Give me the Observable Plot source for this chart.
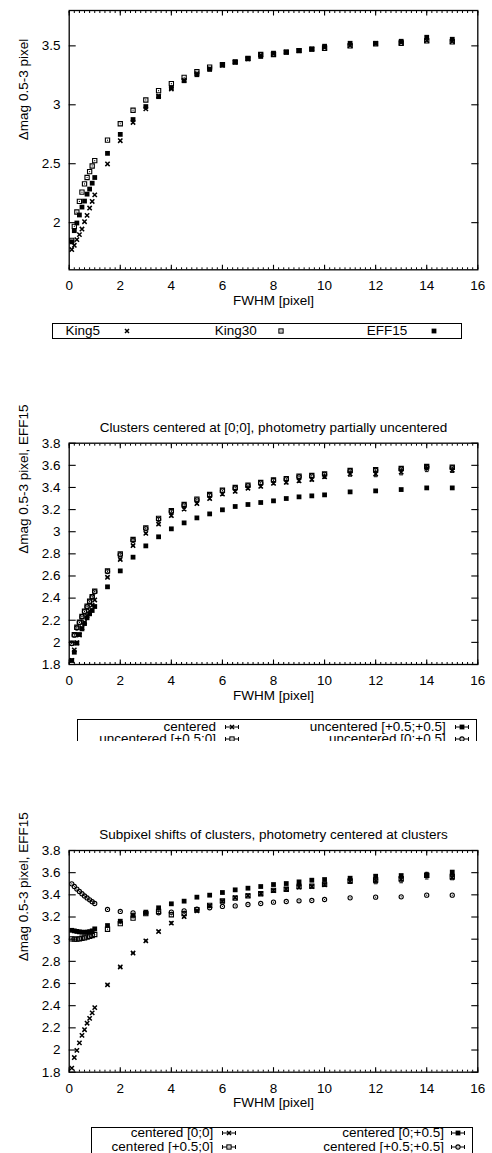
<!DOCTYPE html>
<html><head><meta charset="utf-8">
<script src="https://cdn.jsdelivr.net/npm/d3@7"></script>
<script src="https://cdn.jsdelivr.net/npm/@observablehq/plot@0.6"></script>
<style>
html,body{margin:0;padding:0;background:#fff;}
#root{position:relative;width:492px;height:1153px;overflow:hidden;font-family:"Liberation Sans",Arial,sans-serif;font-size:13.5px;color:#000;}
.lt{position:absolute;white-space:nowrap;line-height:12px;height:12px;}
</style></head><body><div id="root"></div>
<script>
// ---------- data ----------
const fwhm = [0.1,0.2,0.3,0.4,0.5,0.6,0.7,0.8,0.9,1.0,1.5,2,2.5,3,3.5,4,4.5,5,5.5,6,6.5,7,7.5,8,8.5,9,9.5,10,11,12,13,14,15];

// panel 1
const king5  = [1.772,1.808,1.856,1.898,1.946,2.008,2.062,2.124,2.18,2.236,2.498,2.695,2.85,2.965,3.075,3.134,3.207,3.264,3.306,3.334,3.362,3.39,3.424,3.432,3.447,3.46,3.472,3.486,3.503,3.52,3.528,3.545,3.537];
const king30 = [1.85,1.969,2.09,2.18,2.259,2.329,2.383,2.433,2.481,2.526,2.70,2.839,2.954,3.041,3.12,3.179,3.233,3.28,3.32,3.34,3.362,3.393,3.427,3.427,3.447,3.46,3.472,3.48,3.5,3.517,3.522,3.542,3.534];
const eff15  = [1.837,1.932,1.997,2.065,2.132,2.183,2.242,2.285,2.335,2.383,2.588,2.749,2.875,2.985,3.069,3.145,3.204,3.255,3.30,3.34,3.365,3.393,3.41,3.438,3.447,3.46,3.472,3.497,3.522,3.522,3.539,3.573,3.556];

// panel 2
const p2Centered = [1.837,1.932,1.997,2.065,2.132,2.183,2.242,2.285,2.335,2.383,2.588,2.749,2.875,2.985,3.069,3.145,3.204,3.255,3.30,3.34,3.365,3.393,3.41,3.438,3.447,3.46,3.472,3.497,3.522,3.522,3.539,3.573,3.556];
const p2Err      = [0,0,0,0,0,0,0,0,0,0,0.005,0.005,0.006,0.008,0.008,0.01,0.01,0.01,0.01,0.012,0.012,0.012,0.012,0.012,0.014,0.014,0.014,0.015,0.02,0.025,0.025,0.03,0.02];
const p2U50 = [1.993,2.07,2.137,2.183,2.234,2.282,2.327,2.372,2.414,2.463,2.646,2.8,2.93,3.035,3.12,3.19,3.246,3.294,3.336,3.375,3.4,3.42,3.445,3.469,3.48,3.502,3.508,3.523,3.553,3.56,3.571,3.589,3.583];
const p2U55 = [1.836,1.911,1.993,2.071,2.122,2.17,2.222,2.258,2.288,2.324,2.502,2.646,2.77,2.872,2.954,3.026,3.08,3.125,3.161,3.198,3.228,3.246,3.264,3.279,3.30,3.315,3.324,3.333,3.36,3.369,3.381,3.396,3.396];
const p2U05 = [1.99,2.065,2.13,2.18,2.23,2.278,2.322,2.366,2.41,2.458,2.64,2.792,2.922,3.028,3.112,3.183,3.24,3.288,3.33,3.37,3.395,3.415,3.44,3.463,3.475,3.497,3.503,3.518,3.548,3.556,3.566,3.585,3.578];

// panel 3
const p3C00 = [1.837,1.932,1.997,2.065,2.132,2.183,2.242,2.285,2.335,2.383,2.588,2.749,2.875,2.985,3.069,3.145,3.204,3.255,3.30,3.342,3.375,3.393,3.41,3.438,3.451,3.47,3.475,3.49,3.522,3.525,3.539,3.573,3.556];
const p3Err = [0,0,0,0,0,0,0,0,0,0,0.005,0.005,0.006,0.008,0.008,0.01,0.01,0.01,0.01,0.012,0.012,0.012,0.012,0.012,0.014,0.014,0.014,0.015,0.02,0.025,0.03,0.03,0.02];
const p3C05 = [3.08,3.075,3.07,3.066,3.063,3.062,3.064,3.068,3.075,3.093,3.123,3.162,3.214,3.244,3.283,3.319,3.343,3.379,3.397,3.421,3.445,3.46,3.475,3.493,3.502,3.517,3.532,3.538,3.55,3.568,3.574,3.58,3.605];
const p3C50 = [3.003,3.0,3.0,3.003,3.008,3.012,3.018,3.025,3.033,3.042,3.09,3.14,3.19,3.23,3.25,3.22,3.23,3.265,3.305,3.345,3.37,3.39,3.41,3.44,3.45,3.475,3.478,3.495,3.525,3.535,3.545,3.575,3.565];
const p3C55 = [3.499,3.475,3.452,3.43,3.41,3.39,3.372,3.355,3.338,3.322,3.268,3.25,3.238,3.238,3.238,3.244,3.256,3.271,3.283,3.295,3.30,3.313,3.322,3.334,3.34,3.346,3.349,3.358,3.373,3.379,3.382,3.397,3.397];

// ticks & labels
const xTicks = [0,2,4,6,8,10,12,14,16];
const yTicks1 = [2,2.5,3,3.5];
const yTicks23 = [1.8,2,2.2,2.4,2.6,2.8,3,3.2,3.4,3.6,3.8];
const xLabel = "FWHM [pixel]";
const yLabel1 = "Δmag 0.5-3 pixel";
const yLabel23 = "Δmag 0.5-3 pixel, EFF15";
const title2 = "Clusters centered at [0;0], photometry partially uncentered";
const title3 = "Subpixel shifts of clusters, photometry centered at clusters";
const legend1 = ["King5","King30","EFF15"];
const legend2 = ["centered","uncentered [+0.5;+0.5]","uncentered [+0.5;0]","uncentered [0;+0.5]"];
const legend3 = ["centered [0;0]","centered [0;+0.5]","centered [+0.5;0]","centered [+0.5;+0.5]"];

// ---------- drawing ----------
const FONT = '"Liberation Sans", Arial, sans-serif';
const FS = 13.5;
const ML = 68.7, MR = 14.7;
const root = document.getElementById("root");
const xMinor = d3.range(0, 16.001, 0.2);

const capSymbol = {draw(ctx){ctx.moveTo(-1.8,0); ctx.lineTo(1.8,0);}};

function seriesMarks(values, kind, err) {
  const rows = fwhm.map((x, i) => ({x, y: values[i], e: err ? err[i] : 0}));
  const m = [];
  if (err) {
    const re = rows.filter(d => d.e > 0);
    m.push(Plot.ruleX(re, {x: "x", y1: d => d.y - d.e, y2: d => d.y + d.e, stroke: "black", strokeWidth: 1}));
    m.push(Plot.dot(re, {x: "x", y: d => d.y - d.e, symbol: capSymbol, stroke: "black", strokeWidth: 1}));
    m.push(Plot.dot(re, {x: "x", y: d => d.y + d.e, symbol: capSymbol, stroke: "black", strokeWidth: 1}));
  }
  if (kind === "times") m.push(Plot.dot(rows, {x: "x", y: "y", symbol: "times", r: 2.1, stroke: "black", strokeWidth: 1.5}));
  if (kind === "open") {
    m.push(Plot.dot(rows, {x: "x", y: "y", symbol: "square", r: 2.4, stroke: "black", strokeWidth: 1.1, fill: "none"}));
    m.push(Plot.dot(rows, {x: "x", y: "y", r: 0.6, fill: "black"}));
  }
  if (kind === "filled") m.push(Plot.dot(rows, {x: "x", y: "y", symbol: "square", r: 2.7, fill: "black"}));
  if (kind === "circle") {
    m.push(Plot.dot(rows, {x: "x", y: "y", symbol: "circle", r: 2.1, stroke: "black", strokeWidth: 1.1, fill: "none"}));
    m.push(Plot.dot(rows, {x: "x", y: "y", r: 0.6, fill: "black"}));
  }
  return m;
}

function panel({top, height, marginTop, marginBottom, yDomain, yTicks, yLabel, title, series}) {
  const blank = () => "";
  const marks = [
    Plot.frame({stroke: "black", strokeWidth: 1.3}),
    Plot.axisX({ticks: xTicks, tickSize: 0, tickPadding: 11, tickFormat: d => String(d), label: null, fontSize: FS}),
    Plot.axisX({ticks: xTicks, tickSize: -4.5, tickFormat: blank, label: null, strokeWidth: 1.1}),
    Plot.axisX({anchor: "top", ticks: xTicks, tickSize: -4.5, tickFormat: blank, label: null, strokeWidth: 1.1}),
    Plot.axisX({ticks: xMinor, tickSize: -2, tickFormat: blank, label: null, strokeWidth: 1}),
    Plot.axisX({anchor: "top", ticks: xMinor, tickSize: -2, tickFormat: blank, label: null, strokeWidth: 1}),
    Plot.axisY({ticks: yTicks, tickSize: 0, tickPadding: 8.7, tickFormat: d => String(d), label: null, fontSize: FS}),
    Plot.axisY({ticks: yTicks, tickSize: -7, tickFormat: blank, label: null, strokeWidth: 1.1}),
    Plot.axisY({anchor: "right", ticks: yTicks, tickSize: -7, tickFormat: blank, label: null, strokeWidth: 1.1}),
    Plot.text([xLabel], {frameAnchor: "bottom", dy: 35, fontSize: FS}),
    Plot.text([yLabel], {frameAnchor: "left", rotate: -90, dx: -(ML - 23), fontSize: FS}),
  ];
  if (title) marks.push(Plot.text([title], {frameAnchor: "top", dy: -21, fontSize: FS}));
  for (const s of series) marks.push(...seriesMarks(s.values, s.kind, s.err));
  const chart = Plot.plot({
    width: 492, height, marginLeft: ML, marginRight: MR, marginTop, marginBottom,
    style: {fontFamily: FONT, fontSize: FS + "px", background: "transparent", overflow: "visible"},
    x: {domain: [0, 16]},
    y: {domain: yDomain},
    marks
  });
  chart.style.position = "absolute";
  chart.style.left = "0px";
  chart.style.top = top + "px";
  root.appendChild(chart);
}

// panel 1 : frame 10 .. 269.3
panel({top: 0, height: 315, marginTop: 10, marginBottom: 45.7, yDomain: [1.6, 3.8], yTicks: yTicks1, yLabel: yLabel1,
  series: [{values: king5, kind: "times"}, {values: king30, kind: "open"}, {values: eff15, kind: "filled"}]});
// panel 2 : frame 442.7 .. 664
panel({top: 400, height: 309, marginTop: 42.7, marginBottom: 45, yDomain: [1.8, 3.8], yTicks: yTicks23, yLabel: yLabel23, title: title2,
  series: [{values: p2Centered, kind: "times", err: p2Err}, {values: p2U50, kind: "open"}, {values: p2U05, kind: "circle"}, {values: p2U55, kind: "filled"}]});
// panel 3 : frame 850 .. 1071.7
panel({top: 800, height: 316.7, marginTop: 50, marginBottom: 45, yDomain: [1.8, 3.8], yTicks: yTicks23, yLabel: yLabel23, title: title3,
  series: [{values: p3C00, kind: "times", err: p3Err}, {values: p3C50, kind: "open"}, {values: p3C55, kind: "circle"}, {values: p3C05, kind: "filled"}]});

// ---------- legends (HTML, below the SVGs) ----------
function symSVG(kind, withErr) {
  let s = '<svg width="24" height="12" viewBox="-12 -6 24 12" style="display:block">';
  if (withErr) s += '<path d="M-6.5,0H6.5M-6.5,-2V2M6.5,-2V2" stroke="black" stroke-width="1" fill="none"/>';
  if (kind === "times") s += '<path d="M-2,-2L2,2M-2,2L2,-2" stroke="black" stroke-width="1.5"/>';
  if (kind === "open") s += '<rect x="-2.1" y="-2.1" width="4.2" height="4.2" fill="white" stroke="black" stroke-width="1.1"/><circle r="0.6" fill="black"/>';
  if (kind === "filled") s += '<rect x="-2.4" y="-2.4" width="4.8" height="4.8" fill="black"/>';
  if (kind === "circle") s += '<circle r="2.1" fill="white" stroke="black" stroke-width="1.1"/><circle r="0.6" fill="black"/>';
  return s + '</svg>';
}
function box(parent, x0, y0, x1, y1) {
  const d = document.createElement("div");
  d.style.cssText = `position:absolute;left:${x0}px;top:${y0}px;width:${x1 - x0}px;height:${y1 - y0}px;border:1.2px solid #000;box-sizing:border-box;`;
  parent.appendChild(d);
}
function ltext(parent, txt, xRight, yc) {
  const d = document.createElement("div");
  d.className = "lt";
  d.textContent = txt;
  d.style.right = (492 - xRight) + "px";
  d.style.top = (yc - 6) + "px";
  parent.appendChild(d);
}
function lsym(parent, kind, withErr, cx, cy) {
  const d = document.createElement("div");
  d.style.cssText = `position:absolute;left:${cx - 12}px;top:${cy - 6}px;width:24px;height:12px;`;
  d.innerHTML = symSVG(kind, withErr);
  parent.appendChild(d);
}

// legend 1
box(root, 51.7, 322.7, 461.7, 339.5);
ltext(root, legend1[0], 100, 331); lsym(root, "times", false, 127, 331);
ltext(root, legend1[1], 256.7, 331); lsym(root, "open", false, 281, 331);
ltext(root, legend1[2], 407.3, 331); lsym(root, "filled", false, 434, 331);

// legend 2 (cropped at y = 741)
const clip2 = document.createElement("div");
clip2.style.cssText = "position:absolute;left:0;top:0;width:492px;height:741px;overflow:hidden;";
root.appendChild(clip2);
box(clip2, 77.3, 719, 476.7, 760);
ltext(clip2, legend2[0], 216, 726.7); lsym(clip2, "times", true, 231.7, 726.7);
ltext(clip2, legend2[1], 445.7, 726.7); lsym(clip2, "filled", true, 461.5, 726.7);
ltext(clip2, legend2[2], 216, 738.8); lsym(clip2, "open", true, 231.7, 738.8);
ltext(clip2, legend2[3], 445.7, 738.8); lsym(clip2, "circle", true, 461.5, 738.8);

// legend 3 (cropped by the page bottom)
box(root, 90.7, 1126.7, 473.3, 1170);
ltext(root, legend3[0], 213.3, 1133.3); lsym(root, "times", true, 229, 1133.3);
ltext(root, legend3[1], 444, 1133.3); lsym(root, "filled", true, 458, 1133.3);
ltext(root, legend3[2], 213.3, 1147.3); lsym(root, "open", true, 229, 1147.3);
ltext(root, legend3[3], 444, 1147.3); lsym(root, "circle", true, 458, 1147.3);
</script>
</body></html>
